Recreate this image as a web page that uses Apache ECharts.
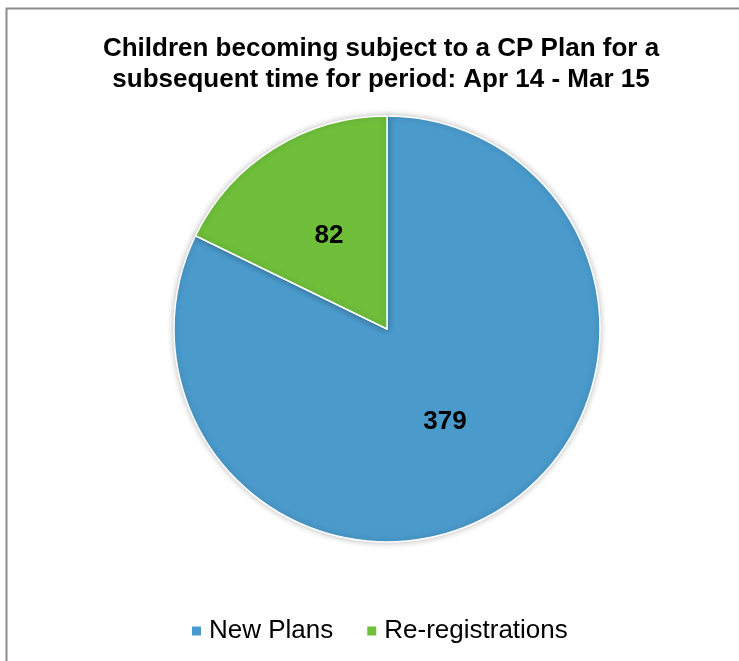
<!DOCTYPE html>
<html>
<head>
<meta charset="utf-8">
<script src="https://cdn.jsdelivr.net/npm/echarts@6/dist/echarts.min.js"></script>
<style>
  html, body { margin: 0; padding: 0; background: #fff; }
  #chart { width: 739px; height: 661px; }
</style>
</head>
<body>
<div id="chart"></div>
<script>
// Child protection plans, Apr 14 - Mar 15
const categories = ['New Plans', 'Re-registrations'];
const values = [379, 82];
const colors = ['#4a9acb', '#6fbf3b'];
const titleLines = [
  'Children becoming subject to a CP Plan for a',
  'subsequent time for period: Apr 14 - Mar 15'
];

const FONT = 'Liberation Sans, Arial, sans-serif';
const chart = echarts.init(document.getElementById('chart'), null, { renderer: 'canvas' });

chart.setOption({
  backgroundColor: '#ffffff',
  animation: false,
  graphic: [{
    type: 'rect',
    shape: { x: 6.5, y: 8.5, width: 800, height: 700 },
    style: { fill: 'none', stroke: '#8c8c8c', lineWidth: 2 },
    silent: true,
    z: 0
  }],
  title: {
    text: titleLines.join('\n'),
    left: 376,
    top: 28,
    textAlign: 'center',
    textStyle: {
      fontFamily: FONT,
      fontWeight: 'bold',
      fontSize: 26,
      lineHeight: 31,
      color: '#000'
    }
  },
  legend: {
    data: categories,
    top: 613,
    left: 185,
    icon: 'rect',
    itemWidth: 11,
    itemHeight: 11,
    itemGap: 32,
    textStyle: {
      fontFamily: FONT,
      fontSize: 26,
      color: '#000',
      padding: [0, 0, 0, 2]
    }
  },
  series: [{
    type: 'pie',
    center: [387, 329],
    radius: 213,
    startAngle: 90,
    clockwise: true,
    data: categories.map((name, i) => ({
      name,
      value: values[i],
      itemStyle: { color: colors[i] }
    })),
    itemStyle: {
      borderColor: '#ffffff',
      borderWidth: 1.5,
      shadowBlur: 6,
      shadowColor: 'rgba(0,0,0,0.25)'
    },
    label: {
      show: true,
      position: 'inside',
      formatter: '{c}',
      fontFamily: FONT,
      fontWeight: 'bold',
      fontSize: 26,
      color: '#000'
    },
    labelLine: { show: false },
    emphasis: { disabled: true }
  }]
});
</script>
</body>
</html>
